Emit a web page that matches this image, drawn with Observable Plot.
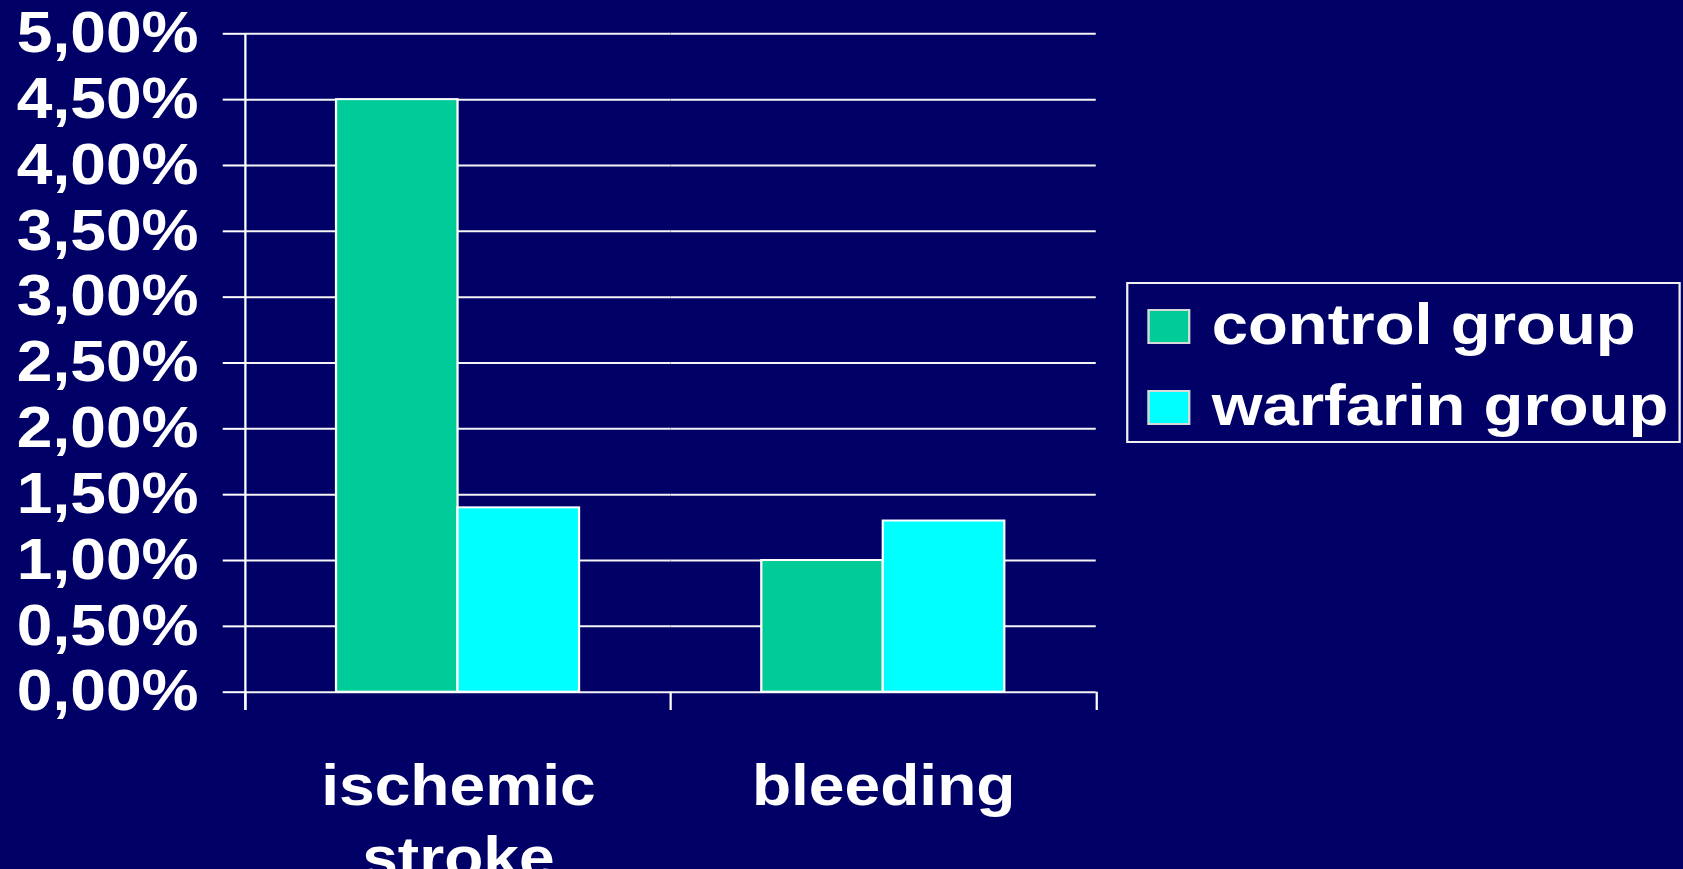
<!DOCTYPE html>
<html>
<head>
<meta charset="utf-8">
<script src="https://cdn.jsdelivr.net/npm/d3@7"></script>
<script src="https://cdn.jsdelivr.net/npm/@observablehq/plot@0.6"></script>
<style>
  html, body { margin: 0; padding: 0; background: #000066; overflow: hidden; }
  #stage {
    position: relative;
    width: 1496px;
    height: 869px;
    transform: scaleX(1.125);
    transform-origin: 0 0;
    font-family: "Liberation Sans", Arial, sans-serif;
    color: white;
  }
  #chart { position: absolute; left: 0; top: 0; }
  #legend {
    position: absolute;
    left: 1001px;
    top: 282px;
    width: 493px;
    height: 161px;
    box-sizing: border-box;
    border: 2px solid #f0f0f0;
  }
  .swatch {
    position: absolute;
    left: 17px;
    width: 38px;
    height: 35px;
    box-sizing: border-box;
    border: 2px solid #d8d8d8;
  }
  .label {
    position: absolute;
    left: 74px;
    font-size: 58px;
    line-height: 58px;
    font-weight: bold;
    white-space: nowrap;
  }
</style>
</head>
<body>
<div id="stage">
  <div id="chart"></div>
  <div id="legend"></div>
</div>
<script>
// Event rates (%) by outcome and treatment group
const categories = ["ischemic stroke", "bleeding"];
const series = ["control group", "warfarin group"];
const controlValues = [4.5, 1.0];
const warfarinValues = [1.4, 1.3];
const seriesColors = ["#00CC99", "#00FFFF"];
const yTicks = [0, 0.5, 1, 1.5, 2, 2.5, 3, 3.5, 4, 4.5, 5];

const data = [];
categories.forEach((c, i) => {
  data.push({category: c, series: series[0], value: controlValues[i]});
  data.push({category: c, series: series[1], value: warfarinValues[i]});
});

const W = 1496, H = 869;
const margin = {top: 33.3, right: 521.2, bottom: 177.3, left: 217.3};
const band = (W - margin.left - margin.right) / categories.length;
const tickDrop = 18.3;
const fontSize = 57;

const pct = d => d.toFixed(2).replace(".", ",") + "%";

const chart = Plot.plot({
  width: W,
  height: H,
  marginTop: margin.top,
  marginRight: margin.right,
  marginBottom: margin.bottom,
  marginLeft: margin.left,
  style: {
    background: "transparent",
    color: "white",
    fontFamily: "Liberation Sans, Arial, sans-serif",
    overflow: "visible"
  },
  fx: {domain: categories, padding: 0, label: null},
  x: {domain: series, paddingInner: 0, paddingOuter: 0.747, axis: null},
  y: {domain: [0, 5], label: null},
  color: {domain: series, range: seriesColors},
  marks: [
    // horizontal grid
    Plot.ruleY(yTicks, {stroke: "#f4f4f4", strokeWidth: 2}),
    // bars
    Plot.barY(data, {
      fx: "category", x: "series", y: "value",
      fill: "series", stroke: "white", strokeWidth: 2
    }),
    // value axis line, running down past the baseline
    Plot.ruleX(categories.slice(0, 1), {
      fx: d => d, x: null, dx: -band / 2, insetBottom: -tickDrop,
      stroke: "white", strokeWidth: 2
    }),
    // category boundary ticks below the baseline
    Plot.ruleX(categories, {
      fx: d => d, x: null, y1: 0, y2: 0, dx: -band / 2, insetBottom: -tickDrop,
      stroke: "white", strokeWidth: 2
    }),
    Plot.ruleX(categories.slice(-1), {
      fx: d => d, x: null, y1: 0, y2: 0, dx: band / 2, insetBottom: -tickDrop,
      stroke: "white", strokeWidth: 2
    }),
    Plot.axisY({
      ticks: yTicks,
      tickFormat: pct,
      tickSize: 20,
      tickPadding: 22,
      strokeWidth: 2,
      fontSize,
      fontWeight: "bold",
      color: "white",
      label: null
    }),
    Plot.axisFx({
      anchor: "bottom",
      tickSize: 0,
      tickPadding: 62.5,
      tickFormat: d => d.replace(" ", "\n"),
      lineAnchor: "top",
      lineHeight: 1.25,
      fontSize,
      fontWeight: "bold",
      color: "white",
      label: null
    })
  ]
});
document.getElementById("chart").appendChild(chart);

// legend
const legend = document.getElementById("legend");
const rowTops = [25, 106];
series.forEach((s, i) => {
  const sw = document.createElement("div");
  sw.className = "swatch";
  sw.style.top = rowTops[i] + "px";
  sw.style.background = seriesColors[i];
  legend.appendChild(sw);
  const lb = document.createElement("span");
  lb.className = "label";
  lb.style.top = (rowTops[i] + 35 - 49.1) + "px";
  lb.textContent = s;
  legend.appendChild(lb);
});
</script>
</body>
</html>
